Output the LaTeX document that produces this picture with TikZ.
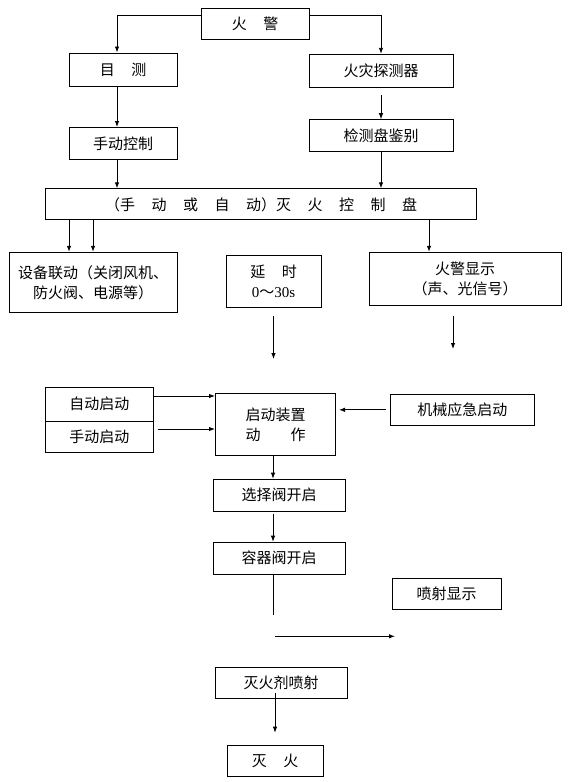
\documentclass[tikz,border=0pt]{standalone}
\usepackage{fontspec}
\setmainfont{Noto Sans CJK SC}
\newfontfamily\numfont{Liberation Serif}
\usetikzlibrary{arrows.meta}
\newcommand\gap{\hspace{1.1em}}

\begin{document}
\begin{tikzpicture}[x=1pt, y=-1pt,
  box/.style={draw, line width=1pt, inner sep=0pt, align=center, font=\fontsize{15}{20}\selectfont},
  arr/.style={-{Latex[length=6pt,width=4.5pt]}, line width=0.9pt}]
  \useasboundingbox (0,0) rectangle (571,782);
  % upper part
  \node[box, minimum width=108, minimum height=31] (huojing) at (255,24) {火\gap 警};
  \node[box, minimum width=108, minimum height=33] (mushi) at (123,69.5) {目\gap 测};
  \node[box, minimum width=144, minimum height=33] (tanceqi) at (381,70.8) {火灾探测器};
  \node[box, minimum width=108, minimum height=32] (shoudong) at (123,143.5) {手动控制};
  \node[box, minimum width=144, minimum height=32] (jiance) at (381,135.7) {检测盘鉴别};
  \node[box, minimum width=431, minimum height=31] (panel) at (261,204.3)
    {（手\gap 动\gap 或\gap 自\gap 动）灭\gap 火\gap 控\gap 制\gap 盘};
  \node[box, minimum width=168, minimum height=60] (shebei) at (93,282.3)
    {设备联动（关闭风机、\\防火阀、电源等）};
  \node[box, minimum width=95, minimum height=52] (yanshi) at (273.5,281.2)
    {延\gap 时\\{\numfont 0}～{\numfont 30s}};
  \node[box, minimum width=192, minimum height=53] (xianshi) at (465,278.8)
    {火警显示\\（声、光信号）};
  % start devices
  \node[box, minimum width=107.5, minimum height=34] (zidong) at (99.3,404) {自动启动};
  \node[box, minimum width=107.5, minimum height=31] (shoudongqd) at (99.3,436.5) {手动启动};
  \node[box, minimum width=120, minimum height=62] (qidong) at (275.5,424.5)
    {启动装置\\动\hspace{2em}作};
  \node[box, minimum width=144, minimum height=31] (jixie) at (462.3,409.8) {机械应急启动};
  \node[box, minimum width=132, minimum height=32] (xuanze) at (279,495.2) {选择阀开启};
  \node[box, minimum width=132, minimum height=32] (rongqi) at (279,558.2) {容器阀开启};
  \node[box, minimum width=109, minimum height=31] (penshexs) at (446.5,594) {喷射显示};
  \node[box, minimum width=132, minimum height=31] (miehuoji) at (281,682.8) {灭火剂喷射};
  \node[box, minimum width=96, minimum height=31] (miehuo) at (275,760.7) {灭\gap 火};
  \coordinate (yanshiend) at (273.5,359);
  \coordinate (xianshiend) at (453,349);
  \coordinate (rongqiend) at (273,615);
  \coordinate (psstart) at (275,636.3);
  \coordinate (psend) at (395,636.3);
  % connectors
  \draw[arr] ([yshift=9pt]huojing.west) -| ([xshift=-6pt]mushi.north);
  \draw[arr] ([yshift=9pt]huojing.east) -| (tanceqi.north);
  \draw[arr] ([xshift=-6pt]mushi.south) -- ([xshift=-6pt]shoudong.north);
  \draw[arr] ([yshift=-7pt]tanceqi.south) -- (jiance.north);
  \draw[arr] ([xshift=-6pt]shoudong.south) -- ([xshift=-6pt]shoudong.south |- panel.north);
  \draw[arr] (jiance.south) -- (jiance.south |- panel.north);
  \draw[arr] ([xshift=-24pt]shebei.north |- panel.south) -- ([xshift=-24pt]shebei.north);
  \draw[arr] (shebei.north |- panel.south) -- (shebei.north);
  \draw[arr] ([xshift=-36pt]xianshi.north |- panel.south) -- ([xshift=-36pt]xianshi.north);
  \draw[arr] ([yshift=-8pt]yanshi.south) -- (yanshiend);
  \draw[arr] ([xshift=-12pt,yshift=-10pt]xianshi.south) -- (xianshiend);
  \draw[arr] ([yshift=8pt]zidong.east) -- ([yshift=8pt]zidong.east -| qidong.west);
  \draw[arr] ([xshift=4pt,yshift=7.5pt]shoudongqd.east) -- ([yshift=7.5pt]shoudongqd.east -| qidong.west);
  \draw[arr] ([xshift=-4pt]jixie.west) -- ([xshift=3pt]qidong.east |- jixie.west);
  \draw[arr] ([xshift=-2.5pt]qidong.south) -- ([xshift=-2.5pt]qidong.south |- xuanze.north);
  \draw[arr] ([xshift=-6pt,yshift=-2pt]xuanze.south) -- ([xshift=-6pt]rongqi.north);
  \draw[line width=0.9pt] (rongqi.south -| rongqiend) -- (rongqiend);
  \draw[arr] (psstart) -- (psend);
  \draw[arr] ([yshift=6pt]miehuoji.south -| miehuo.north) -- ([yshift=12pt]miehuo.north);
\end{tikzpicture}
\end{document}
